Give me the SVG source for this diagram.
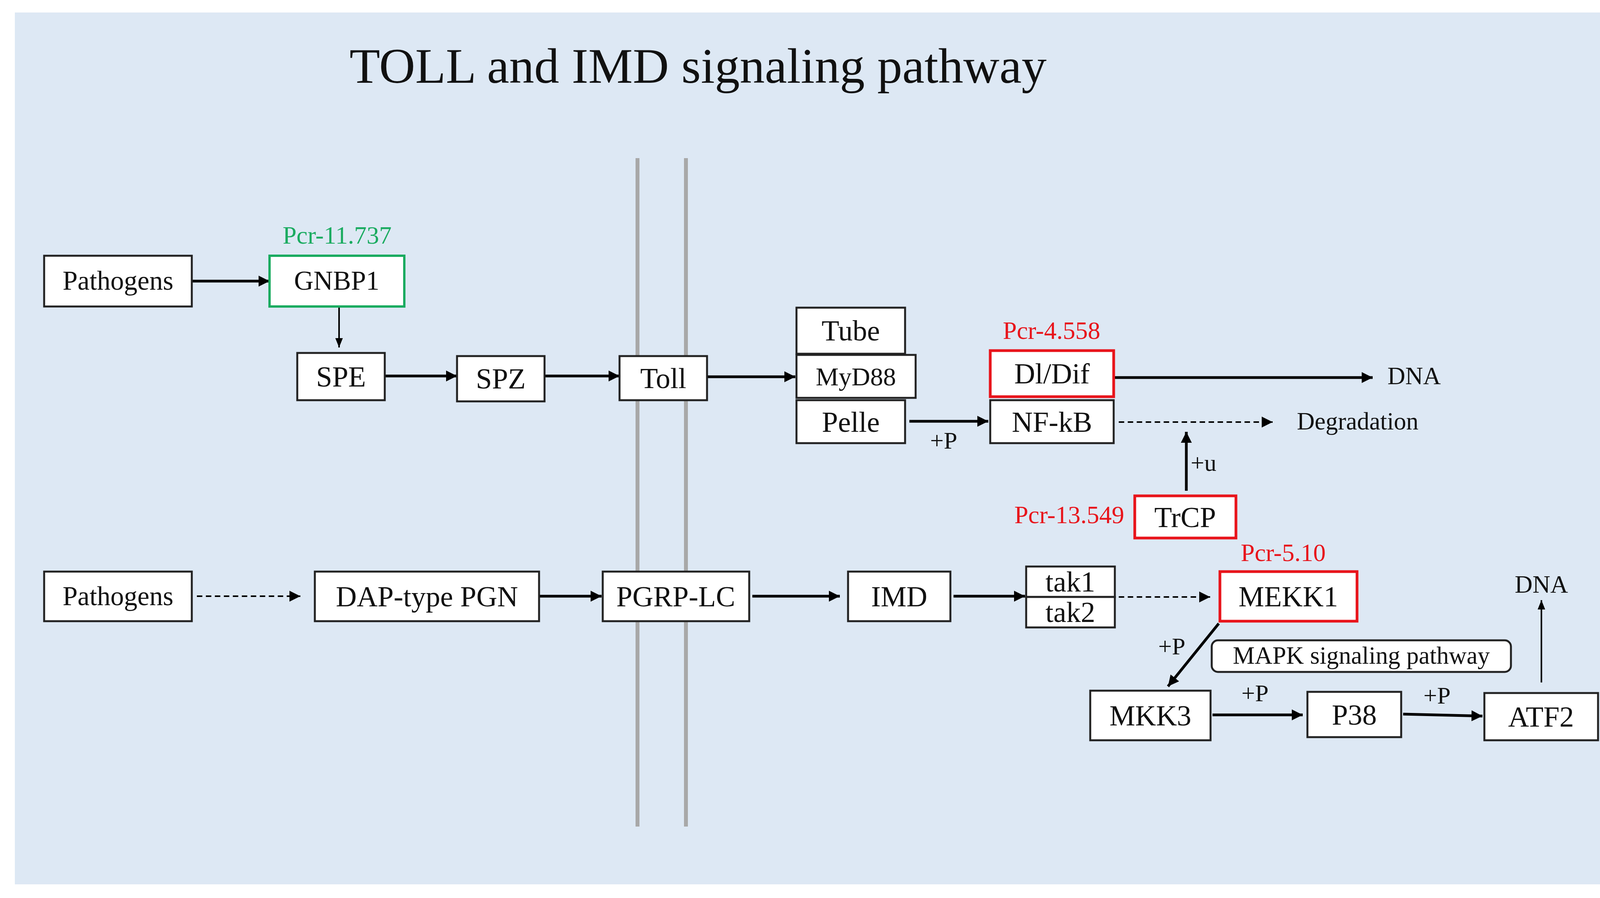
<svg xmlns="http://www.w3.org/2000/svg" width="4229" height="2300" viewBox="0 0 4229 2300">
<style>
.b{fill:#fff;stroke:#222;stroke-width:5}
.r{fill:#fff;stroke:#e8141b;stroke-width:7}
.g{fill:#fff;stroke:#1aab60;stroke-width:6}
text{font-family:"Liberation Serif",serif;fill:#111}
.t{font-size:74px;text-anchor:middle}
.s{font-size:63px;text-anchor:middle}
.p{font-size:69px;text-anchor:middle}
.l{font-size:62px}
.red{fill:#e8141b;font-size:64px}
.a{stroke:#000;stroke-width:7;fill:none;marker-end:url(#ah)}
.d{stroke:#000;stroke-width:4;fill:none;stroke-dasharray:14 9;marker-end:url(#ah)}
.n{stroke:#000;stroke-width:4;fill:none;marker-end:url(#ah2)}
</style>
<defs>
<marker id="ah" viewBox="0 0 10 10" refX="10" refY="5" markerWidth="28" markerHeight="28" markerUnits="userSpaceOnUse" orient="auto"><path d="M0,0L10,5L0,10z" fill="#000"/></marker>
<marker id="ah2" viewBox="0 0 10 10" refX="10" refY="5" markerWidth="30" markerHeight="24" markerUnits="userSpaceOnUse" orient="auto"><path d="M0,1L10,5L0,9z" fill="#000"/></marker>
</defs>
<rect width="4229" height="2300" fill="#fff"/>
<rect x="38" y="32" width="4150" height="2233" fill="#dde8f4"/>
<text x="1787" y="212" font-size="128" text-anchor="middle">TOLL and IMD signaling pathway</text>
<line x1="1632" y1="405" x2="1632" y2="2117" stroke="#a8a8a8" stroke-width="10"/>
<line x1="1756" y1="405" x2="1756" y2="2117" stroke="#a8a8a8" stroke-width="10"/>
<g id="connectors">
<path class="a" d="M491,720H690"/>
<path class="n" d="M868,785V890"/>
<path class="a" d="M985,963H1170"/>
<path class="a" d="M1394,963H1586"/>
<path class="a" d="M1810,965H2036"/>
<path class="a" d="M2328,1079H2530"/>
<path class="a" d="M2851,967H3514"/>
<path class="d" d="M2864,1081H3258"/>
<path class="a" d="M3037,1257V1106"/>
<path class="d" d="M504,1527H769"/>
<path class="a" d="M1381,1527H1540"/>
<path class="a" d="M1926,1527H2150"/>
<path class="a" d="M2441,1527H2624"/>
<path class="d" d="M2864,1529H3098"/>
<path class="a" d="M3120,1597L2990,1758"/>
<path class="a" d="M3104,1831H3335"/>
<path class="a" d="M3592,1829L3795,1834"/>
<path class="n" d="M3946,1748V1537"/>
<text class="l" x="2381" y="1149">+P</text>
<text class="l" x="3048" y="1206">+u</text>
<text class="l" x="2965" y="1676">+P</text>
<text class="l" x="3178" y="1796">+P</text>
<text class="l" x="3644" y="1802">+P</text>
<text class="s" x="3552" y="984" style="text-anchor:start">DNA</text>
<text class="s" x="3320" y="1100" style="text-anchor:start">Degradation</text>
<text class="s" x="3946" y="1518">DNA</text>
</g>
<g id="pathogens1"><rect class="b" x="113" y="655" width="378" height="130"/><text class="p" x="302" y="742">Pathogens</text></g>
<g id="gnbp1"><rect class="g" x="690" y="655" width="345" height="130"/><text class="p" x="862" y="742">GNBP1</text><text x="863" y="624" font-size="64" style="fill:#1aab60" text-anchor="middle">Pcr-11.737</text></g>
<g id="spe"><rect class="b" x="761" y="904" width="224" height="121"/><text class="t" x="873" y="990">SPE</text></g>
<g id="spz"><rect class="b" x="1170" y="912" width="224" height="116"/><text class="t" x="1282" y="995">SPZ</text></g>
<g id="toll"><rect class="b" x="1586" y="912" width="224" height="113"/><text class="t" x="1698" y="994">Toll</text></g>
<g id="tube"><rect class="b" x="2039" y="788" width="278" height="118"/><text class="t" x="2178" y="872">Tube</text></g>
<g id="myd88"><rect class="b" x="2039" y="909" width="305" height="110"/><text x="2191" y="987" font-size="66" text-anchor="middle">MyD88</text></g>
<g id="pelle"><rect class="b" x="2039" y="1025" width="278" height="110"/><text class="t" x="2178" y="1106">Pelle</text></g>
<g id="dldif"><rect class="r" x="2535" y="898" width="316" height="118"/><text class="t" x="2693" y="982">Dl/Dif</text><text class="red" x="2692" y="868" text-anchor="middle">Pcr-4.558</text></g>
<g id="nfkb"><rect class="b" x="2535" y="1025" width="316" height="110"/><text class="t" x="2693" y="1106">NF-kB</text></g>
<g id="trcp"><rect class="r" x="2905" y="1270" width="259" height="108"/><text class="t" x="3034" y="1350">TrCP</text><text class="red" x="2878" y="1340" text-anchor="end">Pcr-13.549</text></g>
<g id="pathogens2"><rect class="b" x="113" y="1464" width="378" height="127"/><text class="p" x="302" y="1550">Pathogens</text></g>
<g id="dap"><rect class="b" x="806" y="1464" width="574" height="127"/><text class="t" x="1093" y="1553">DAP-type PGN</text></g>
<g id="pgrplc"><rect class="b" x="1543" y="1464" width="375" height="127"/><text class="t" x="1730" y="1553">PGRP-LC</text></g>
<g id="imd"><rect class="b" x="2171" y="1464" width="262" height="127"/><text class="t" x="2302" y="1553">IMD</text></g>
<g id="tak1"><rect class="b" x="2627" y="1451" width="227" height="78"/><text class="t" x="2740" y="1515">tak1</text></g>
<g id="tak2"><rect class="b" x="2627" y="1529" width="227" height="78"/><text class="t" x="2740" y="1593">tak2</text></g>
<g id="mekk1"><rect class="r" x="3123" y="1464" width="351" height="127"/><text class="t" x="3298" y="1553">MEKK1</text><text class="red" x="3285" y="1437" text-anchor="middle">Pcr-5.10</text></g>
<g id="mapk"><rect class="b" x="3102" y="1640" width="766" height="81" rx="16"/><text class="s" x="3485" y="1700">MAPK signaling pathway</text></g>
<g id="mkk3"><rect class="b" x="2791" y="1769" width="308" height="127"/><text class="t" x="2945" y="1858">MKK3</text></g>
<g id="p38"><rect class="b" x="3347" y="1772" width="240" height="116"/><text class="t" x="3467" y="1856">P38</text></g>
<g id="atf2"><rect class="b" x="3800" y="1775" width="291" height="121"/><text class="t" x="3945" y="1861">ATF2</text></g>
</svg>
